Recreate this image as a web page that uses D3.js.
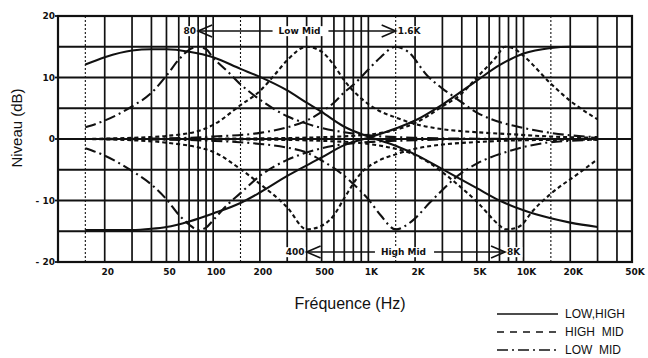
<!DOCTYPE html>
<html><head><meta charset="utf-8">
<script src="https://cdn.jsdelivr.net/npm/d3@7"></script>
<style>body{margin:0;background:#fff}svg{display:block}</style>
</head><body>
<svg id="c" width="648" height="358"></svg>
<script>
// ---- data (frequency Hz, level dB) ----
const lowHighA = [[15,12.1],[20,13.3],[30,14.4],[40,14.6],[50,14.6],[70,14.2],[100,13.3],[150,11.4],[200,10.1],[300,7.9],[400,5.9],[500,4.4],[700,2.0],[1000,0.4],[1500,-1.1],[2000,-2.5],[3000,-4.9],[5000,-8.0],[7000,-10.0],[10000,-11.6],[15000,-12.9],[20000,-13.6],[30000,-14.3]];
const lowHighB = [[15,-14.8],[20,-14.8],[30,-14.8],[40,-14.6],[50,-14.3],[70,-13.4],[100,-12.1],[150,-10.4],[200,-8.7],[300,-6.0],[500,-3.0],[700,-1.0],[1000,0.2],[1500,1.7],[2000,3.0],[3000,5.6],[5000,9.5],[7000,12.0],[10000,13.9],[15000,14.8],[20000,15.0],[30000,15.0]];
const lowMid80Boost = [[15,1.9],[20,3.0],[30,5.3],[40,7.5],[50,10.3],[60,12.9],[70,14.5],[80,15.0],[90,14.6],[100,13.2],[125,10.9],[150,8.9],[200,6.4],[300,3.7],[400,2.5],[500,1.8],[700,1.1],[1000,0.6],[2000,0.2],[5000,0.05],[30000,0]];
const lowMid80Cut = [[15,-1.5],[20,-2.7],[30,-5.2],[40,-7.4],[50,-9.8],[60,-12.3],[70,-13.9],[80,-14.8],[90,-14.4],[100,-13.2],[120,-11.0],[150,-8.8],[200,-6.0],[300,-3.4],[400,-2.2],[600,-1.1],[1000,-0.5],[2000,-0.2],[5000,0],[30000,0]];
const lowMid16kBoost = [[15,0],[50,0.1],[100,0.4],[200,1.0],[300,1.9],[400,3.0],[500,4.4],[600,5.9],[700,7.6],[800,8.8],[1000,11.3],[1200,13.3],[1500,15.0],[1800,14.2],[2400,10.3],[3000,8.2],[3600,6.8],[5000,4.3],[7600,2.5],[10000,1.8],[14000,1.1],[20000,0.6],[30000,0.3]];
const lowMid16kCut = [[15,0],[50,-0.1],[100,-0.3],[200,-0.8],[300,-1.4],[400,-2.2],[500,-3.5],[700,-6.0],[800,-7.3],[1000,-9.8],[1200,-12.4],[1500,-14.7],[1900,-13.4],[2500,-10.3],[3000,-8.3],[3600,-6.4],[5000,-4.0],[8000,-2.0],[14000,-0.6],[20000,-0.3],[30000,-0.1]];
const highMid400Boost = [[15,0],[30,0.2],[50,0.5],[80,1.3],[100,2.3],[150,5.5],[200,7.8],[250,10.5],[300,12.8],[400,15.0],[500,14.2],[600,12.0],[700,9.5],[900,6.6],[1150,4.7],[1500,3.5],[1900,2.6],[3000,1.6],[5000,1.1],[8000,0.8],[15000,0.4],[30000,0.2]];
const highMid400Cut = [[15,0],[30,-0.2],[50,-0.6],[100,-2.1],[150,-4.9],[200,-7.3],[300,-11.1],[400,-14.7],[500,-14.1],[600,-12.4],[700,-9.6],[900,-5.5],[1150,-3.6],[1500,-2.5],[2000,-1.6],[3000,-0.9],[5000,-0.5],[10000,-0.2],[30000,-0.1]];
const highMid8kBoost = [[15,0],[200,0.1],[500,0.3],[1000,0.7],[1500,1.5],[2000,2.6],[3000,5.3],[4000,7.4],[5000,10.0],[6600,13.2],[7600,15.0],[8500,14.8],[10000,13.5],[15000,9.0],[20000,6.2],[30000,3.2]];
const highMid8kCut = [[15,0],[200,-0.1],[500,-0.3],[1000,-0.8],[1500,-1.6],[2000,-2.6],[3000,-5.4],[3600,-7.0],[5000,-10.2],[6900,-13.9],[7600,-14.7],[8500,-14.6],[9800,-13.9],[11200,-12.0],[15000,-8.9],[22600,-5.6],[30000,-3.3]];

const xTickValues = [20,50,100,200,500,1000,2000,5000,10000,20000,50000];
const xTickLabels = ["20","50","100","200","500","1K","2K","5K","10K","20K","50K"];
const yTickValues = [20,10,0,-10,-20];
const yTickLabels = ["20","10","0","- 10","- 20"];
const dottedFreqs = [15,150,1500,15000];

const lowMidRange = [80,1500];   const lowMidLabels = ["80","Low Mid","1.6K"];
const highMidRange = [400,7600]; const highMidLabels = ["400","High Mid","8K"];

const legendLabels = ["LOW,HIGH","HIGH  MID","LOW  MID"];

// ---- drawing ----
const svg = d3.select("#c");
const x = d3.scaleLog().domain([10,50000]).range([58,632]);
const y = d3.scaleLinear().domain([-20,20]).range([262,16]);
const INK = "#111";
const tickFont = "'DejaVu Sans', sans-serif";

// vertical grid
const g = svg.append("g");
g.selectAll("line.v").data(x.ticks().filter(f => f > 10 && f < 50000)).join("line")
  .attr("x1", d => x(d)).attr("x2", d => x(d)).attr("y1", y(20)).attr("y2", y(-20))
  .attr("stroke", INK).attr("stroke-width", 1.7);
g.selectAll("line.d").data(dottedFreqs).join("line")
  .attr("x1", d => x(d)).attr("x2", d => x(d)).attr("y1", y(20)).attr("y2", y(-20))
  .attr("stroke", INK).attr("stroke-width", 1.1).attr("stroke-dasharray", "2,2");
// horizontal grid
g.selectAll("line.h").data(d3.range(-15, 20, 5)).join("line")
  .attr("x1", x(10)).attr("x2", x(50000)).attr("y1", d => y(d)).attr("y2", d => y(d))
  .attr("stroke", INK).attr("stroke-width", 1.8);

// curves
const line = d3.line().x(d => x(d[0])).y(d => y(d[1])).curve(d3.curveMonotoneX);
const styles = {
  solid: {dash: null},
  high: {dash: "4,3"},
  low: {dash: "11,4,2,4"}
};
const curves = [
  [lowHighA,"solid"],[lowHighB,"solid"],
  [lowMid80Boost,"low"],[lowMid80Cut,"low"],[lowMid16kBoost,"low"],[lowMid16kCut,"low"],
  [highMid400Boost,"high"],[highMid400Cut,"high"],[highMid8kBoost,"high"],[highMid8kCut,"high"]
];
svg.append("g").selectAll("path").data(curves).join("path")
  .attr("d", d => line(d[0])).attr("fill", "none").attr("stroke", INK)
  .attr("stroke-width", 2.1).attr("stroke-dasharray", d => styles[d[1]].dash);

// border
svg.append("rect").attr("x", x(10)).attr("y", y(20)).attr("width", x(50000)-x(10)).attr("height", y(-20)-y(20))
  .attr("fill", "none").attr("stroke", INK).attr("stroke-width", 2.2);

// y ticks & labels
const yl = svg.append("g");
yl.selectAll("line").data(yTickValues).join("line")
  .attr("x1", x(10)-3).attr("x2", x(10)).attr("y1", d => y(d)).attr("y2", d => y(d))
  .attr("stroke", INK).attr("stroke-width", 1.8);
yl.selectAll("text").data(yTickValues).join("text")
  .attr("x", x(10)-3).attr("y", d => y(d)).attr("dy", "0.35em").attr("text-anchor", "end")
  .attr("font-family", tickFont).attr("font-weight", "bold").attr("font-size", 9).attr("fill", INK)
  .text((d,i) => yTickLabels[i]);

// x labels
svg.append("g").selectAll("text").data(xTickValues).join("text")
  .attr("x", d => x(d) + 3).attr("y", 272).attr("dy", "0.35em").attr("text-anchor", "middle")
  .attr("font-family", tickFont).attr("font-weight", "bold").attr("font-size", 9).attr("fill", INK)
  .text((d,i) => xTickLabels[i]);

// axis titles
svg.append("text").attr("x", 350).attr("y", 309).attr("text-anchor", "middle")
  .attr("font-family", "'Liberation Sans', Arial, sans-serif").attr("font-size", 16).attr("fill", INK)
  .text("Fréquence (Hz)");
svg.append("text").attr("transform", "translate(22,128) rotate(-90)").attr("text-anchor", "middle")
  .attr("font-family", "'Liberation Sans', Arial, sans-serif").attr("font-size", 15).attr("fill", INK)
  .text("Niveau (dB)");

// range arrows
function rangeArrow(range, labels, yy, textStart, textEnd) {
  const a = svg.append("g");
  const x0 = x(range[0]), x1 = x(range[1]);
  const mid = a.append("text").attr("x", (textStart + textEnd)/2).attr("y", yy).attr("dy", "0.35em")
    .attr("text-anchor", "middle").attr("font-family", tickFont).attr("font-weight", "bold")
    .attr("font-size", 9).attr("fill", INK).text(labels[1]);
  const bb = mid.node().getBBox();
  a.insert("rect", "text").attr("x", bb.x - 3).attr("y", bb.y).attr("width", bb.width + 6).attr("height", bb.height).attr("fill", "#fff");
  a.append("line").attr("x1", x0).attr("x2", bb.x - 6).attr("y1", yy).attr("y2", yy).attr("stroke", INK).attr("stroke-width", 1.6);
  a.append("line").attr("x1", bb.x + bb.width + 8).attr("x2", x1).attr("y1", yy).attr("y2", yy).attr("stroke", INK).attr("stroke-width", 1.6);
  a.append("path").attr("d", `M${x0+14},${yy-6}L${x0},${yy}L${x0+14},${yy+6}`).attr("fill", "none").attr("stroke", INK).attr("stroke-width", 1.6);
  a.append("path").attr("d", `M${x1-14},${yy-6}L${x1},${yy}L${x1-14},${yy+6}`).attr("fill", "none").attr("stroke", INK).attr("stroke-width", 1.6);
  const l = a.append("text").attr("x", x0 - 2).attr("y", yy).attr("dy", "0.35em").attr("text-anchor", "end")
    .attr("font-family", tickFont).attr("font-weight", "bold").attr("font-size", 9).attr("fill", INK).text(labels[0]);
  const lb = l.node().getBBox();
  a.insert("rect", "text").attr("x", lb.x - 1).attr("y", lb.y).attr("width", lb.width + 2).attr("height", lb.height).attr("fill", "#fff");
  const r = a.append("text").attr("x", x1 + 2).attr("y", yy).attr("dy", "0.35em").attr("text-anchor", "start")
    .attr("font-family", tickFont).attr("font-weight", "bold").attr("font-size", 9).attr("fill", INK).text(labels[2]);
  const rb = r.node().getBBox();
  a.insert("rect", "text").attr("x", rb.x - 1).attr("y", rb.y).attr("width", rb.width + 2).attr("height", rb.height).attr("fill", "#fff");
}
rangeArrow(lowMidRange, lowMidLabels, 31, 278, 321);
rangeArrow(highMidRange, highMidLabels, 252, 380, 427);

// legend
const leg = svg.append("g");
const legDash = [null, "7,6", "11,4,2,4"];
legendLabels.forEach((t, i) => {
  const yy = 314 + i * 18;
  leg.append("line").attr("x1", 497).attr("x2", 558).attr("y1", yy).attr("y2", yy)
    .attr("stroke", INK).attr("stroke-width", 1.6).attr("stroke-dasharray", legDash[i]);
  leg.append("text").attr("x", 565).attr("y", yy).attr("dy", "0.36em")
    .attr("font-family", "'Liberation Sans', Arial, sans-serif").attr("font-size", 12).attr("fill", INK)
    .style("white-space", "pre").text(t);
});
</script>
</body></html>
